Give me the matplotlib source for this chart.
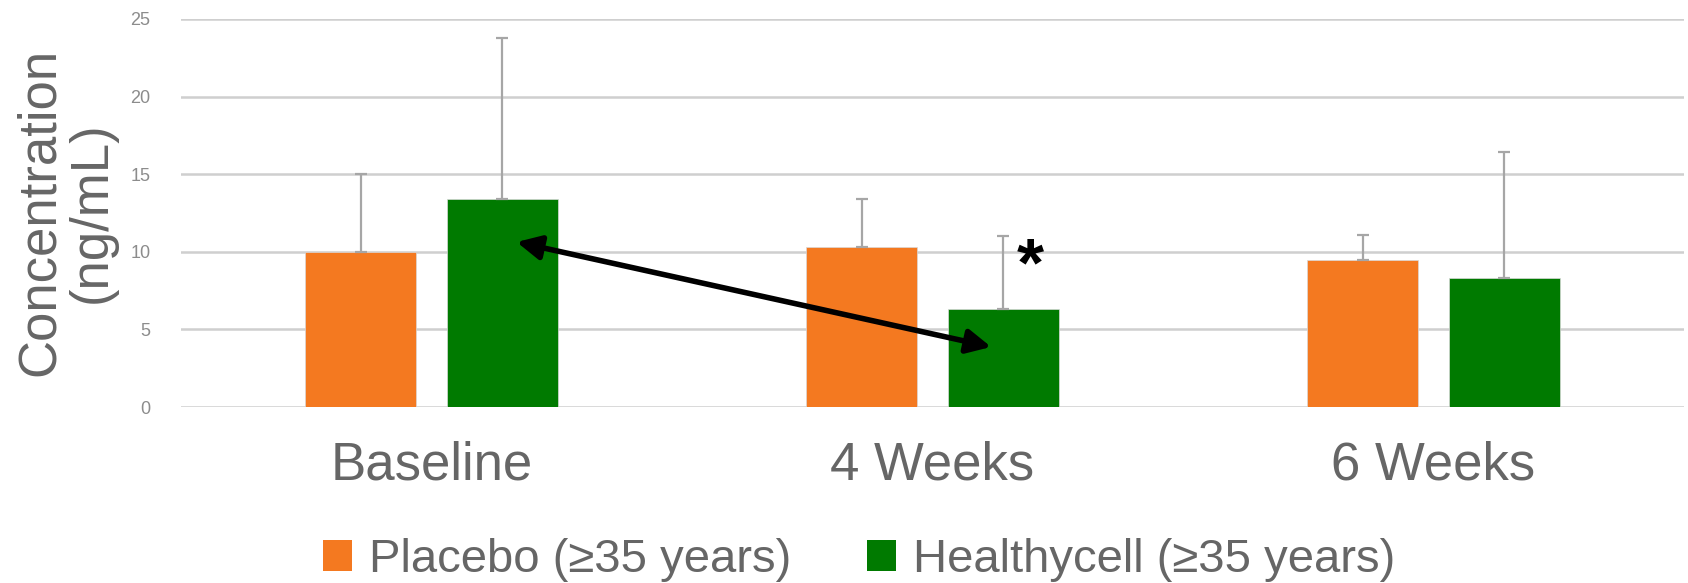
import matplotlib
matplotlib.use("Agg")
import matplotlib.pyplot as plt
import numpy as np
from matplotlib.patches import Patch

categories = ["Baseline", "4 Weeks", "6 Weeks"]
series_names = ["Placebo (\u226535 years)", "Healthycell (\u226535 years)"]
placebo = [10.0, 10.3, 9.5]
placebo_err = [5.0, 3.1, 1.6]
healthycell = [13.4, 6.3, 8.3]
healthycell_err = [10.4, 4.7, 8.1]
yticks = [0, 5, 10, 15, 20, 25]

orange = "#F47920"
green = "#007A00"
grid_c = "#cfcfcf"
text_c = "#666666"

fig = plt.figure(figsize=(16.88, 5.83), dpi=100)
ax = fig.add_axes([181/1688, 1-407/583, (1684-181)/1688, (407-19)/583])

x = np.arange(len(categories))
w = 0.223
off = 0.1416
err_kw = dict(ecolor="#a6a6a6", elinewidth=1.6, capsize=4.5, capthick=1.6)
ax.bar(x - off, placebo, w, color=orange, edgecolor="#d9d9d9", linewidth=0.5,
       yerr=[np.zeros(3), placebo_err], error_kw=err_kw, zorder=3)
ax.bar(x + off, healthycell, w, color=green, edgecolor="#d9d9d9", linewidth=0.5,
       yerr=[np.zeros(3), healthycell_err], error_kw=err_kw, zorder=3)

ax.set_xlim(-0.5, 2.5)
ax.set_ylim(0, 25)
ax.set_yticks(yticks)
ax.yaxis.grid(True, color=grid_c, linewidth=1.8, zorder=0)
ax.set_axisbelow(True)
for s in ax.spines.values():
    s.set_visible(False)
ax.tick_params(axis="both", length=0)
ax.tick_params(axis="y", pad=22, labelsize=13, labelcolor="#8c8c8c")
ax.set_xticks(x)
ax.set_xticklabels(categories, fontsize=38, color=text_c, family=["Liberation Sans", "DejaVu Sans"])
ax.tick_params(axis="x", pad=24)
for lab in ax.get_yticklabels():
    lab.set_family(["Liberation Sans", "DejaVu Sans"])

# arrow between Baseline and 4 Weeks Healthycell
ax.annotate("", xy=(1.117, 3.87), xytext=(0.170, 10.63),
            arrowprops=dict(arrowstyle="<|-|>", color="black", lw=4,
                            mutation_scale=36, shrinkA=0, shrinkB=0), zorder=5)
ax.text(1.196, 9.0, "*", fontsize=50, fontweight="bold", ha="center", va="center",
        color="black", family=["Liberation Sans", "DejaVu Sans"], zorder=5)

fig.text(66/1688, 1-212/583, "Concentration\n(ng/mL)", rotation=90, ha="center", va="center",
         multialignment="center", fontsize=38, color=text_c, linespacing=1.05,
         family=["Liberation Sans", "DejaVu Sans"])

handles = [Patch(facecolor=orange, edgecolor="none"), Patch(facecolor=green, edgecolor="none")]
leg = fig.legend(handles, series_names, loc="center", bbox_to_anchor=(859/1688, 1-560/583),
                 ncol=2, frameon=False, handlelength=0.62, handleheight=0.62,
                 handletextpad=0.35, columnspacing=1.6,
                 prop=dict(family=["Liberation Sans", "DejaVu Sans"], size=34))
for t in leg.get_texts():
    t.set_color(text_c)

fig.savefig("out.png", dpi=100)
